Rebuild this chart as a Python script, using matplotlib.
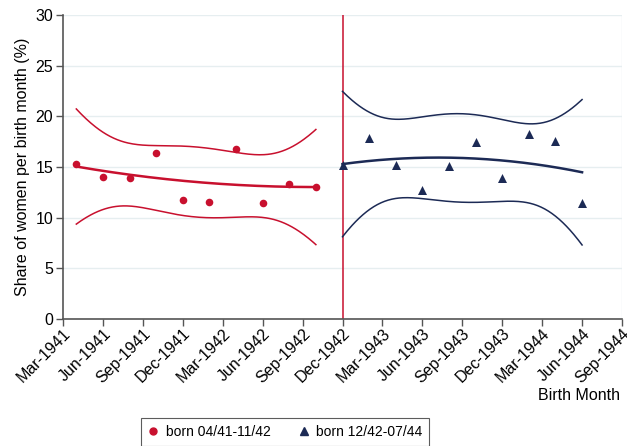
import numpy as np
import matplotlib
matplotlib.use("Agg")
import matplotlib.pyplot as plt
from matplotlib.lines import Line2D

plt.rcParams['font.family'] = ['Liberation Sans', 'DejaVu Sans']

# months since Mar-1941
tick_labels = ["Mar-1941", "Jun-1941", "Sep-1941", "Dec-1941", "Mar-1942", "Jun-1942",
               "Sep-1942", "Dec-1942", "Mar-1943", "Jun-1943", "Sep-1943", "Dec-1943",
               "Mar-1944", "Jun-1944", "Sep-1944"]
tick_pos = list(range(0, 43, 3))

g1_x = [1, 3, 5, 7, 9, 11, 13, 15, 17, 19]
g1_y = [15.3, 14.0, 13.9, 16.4, 11.7, 11.5, 16.8, 11.4, 13.3, 13.0]
g2_x = [21, 23, 25, 27, 29, 31, 33, 35, 37, 39]
g2_y = [15.2, 17.9, 15.2, 12.7, 15.1, 17.5, 13.9, 18.3, 17.6, 11.4]
cutoff = 21

RED = '#c8102e'
NAVY = '#1c2a55'

fig = plt.figure(figsize=(6.27, 4.46), dpi=100)
ax = fig.add_axes([63/627, 1-319/446, (622-63)/627, (319-15)/446])

T_CRIT = 3.4995  # t(0.995, 7): 99% confidence interval


def qfitci(x, y, color):
    x = np.asarray(x, float)
    y = np.asarray(y, float)
    X = np.column_stack([np.ones_like(x), x, x**2])
    beta, *_ = np.linalg.lstsq(X, y, rcond=None)
    resid = y - X @ beta
    s2 = resid @ resid / (len(x) - 3)
    cov = s2 * np.linalg.inv(X.T @ X)
    xs = np.linspace(x.min(), x.max(), 200)
    Xs = np.column_stack([np.ones_like(xs), xs, xs**2])
    fit = Xs @ beta
    se = np.sqrt(np.einsum('ij,jk,ik->i', Xs, cov, Xs))
    ax.plot(xs, fit, color=color, lw=1.8, zorder=3)
    ax.plot(xs, fit + T_CRIT * se, color=color, lw=1.1, zorder=3)
    ax.plot(xs, fit - T_CRIT * se, color=color, lw=1.1, zorder=3)


qfitci(g1_x, g1_y, RED)
qfitci(g2_x, g2_y, NAVY)
ax.scatter(g1_x, g1_y, color=RED, marker='o', s=30, zorder=4, linewidths=0)
ax.scatter(g2_x, g2_y, color=NAVY, marker='^', s=42, zorder=4, linewidths=0)
ax.axvline(cutoff, color=RED, lw=1.1, zorder=2)

ax.set_xlim(0, 42)
ax.set_ylim(0, 30)
ax.set_yticks([0, 5, 10, 15, 20, 25, 30])
ax.set_xticks(tick_pos)
ax.set_xticklabels(tick_labels, rotation=45, ha='right', rotation_mode='anchor', fontsize=11.5)
ax.tick_params(axis='y', labelsize=11.5, length=5, width=1, color='#555555', pad=2)
ax.tick_params(axis='x', length=5, width=1, color='#555555', pad=0)
ax.yaxis.grid(True, color='#e6eef0', lw=1)
ax.set_axisbelow(True)
for s in ['top', 'right']:
    ax.spines[s].set_visible(False)
for s in ['left', 'bottom']:
    ax.spines[s].set_color('#555555')
    ax.spines[s].set_linewidth(1.2)
ax.axvline(42, color='#e6eef0', lw=1, zorder=0)

ax.set_ylabel('Share of women per birth month (%)', fontsize=11.5, labelpad=4)
fig.text(620/627, 1-396/446, 'Birth Month', ha='right', va='center', fontsize=11.5)

handles = [Line2D([], [], color=RED, marker='o', ls='none', markersize=5),
           Line2D([], [], color=NAVY, marker='^', ls='none', markersize=5.5)]
leg = fig.legend(handles, ['born 04/41-11/42', 'born 12/42-07/44'], loc='center',
                 bbox_to_anchor=(285/627, 1-432/446), ncol=2, frameon=True, fancybox=False,
                 fontsize=10, handletextpad=0.5, columnspacing=2.0, borderpad=0.5,
                 handlelength=0.8, borderaxespad=0)
leg.get_frame().set_edgecolor('#333333')
leg.get_frame().set_linewidth(0.8)

fig.savefig('out.png', dpi=100)
